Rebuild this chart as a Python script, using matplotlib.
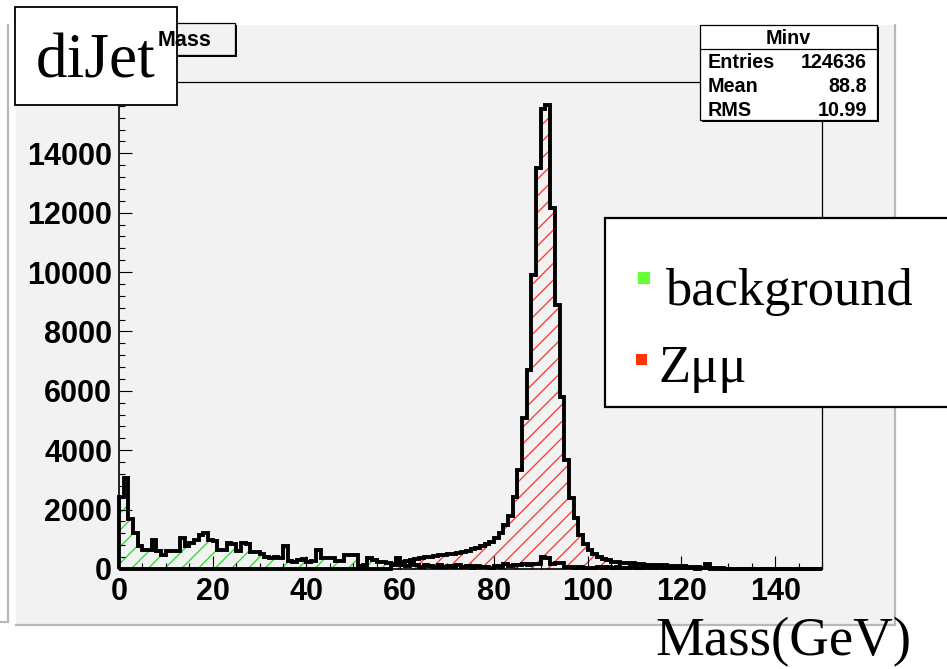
import numpy as np
import matplotlib
matplotlib.use("Agg")
import matplotlib.pyplot as plt
from matplotlib.patches import Rectangle

W, H, DPI = 947, 669, 100

# 1 GeV bins from 0 to 150 GeV
bin_edges = np.arange(0, 151, 1)

background = [
    2410, 3060, 1700, 1200, 760, 630, 630, 980, 590, 480,
    610, 610, 590, 1040, 760, 870, 980, 1150, 1210, 980,
    930, 650, 650, 870, 840, 590, 870, 840, 570, 570,
    500, 420, 370, 390, 370, 790, 280, 250, 310, 340,
    250, 280, 650, 370, 370, 370, 260, 260, 480, 480,
    480, 90, 150, 370, 310, 220, 220, 200, 180, 370,
    150, 100, 200, 120, 80, 150, 100, 60, 120, 80,
    100, 60, 130, 70, 90, 50, 110, 60, 80, 50,
    90, 70, 180, 100, 150, 140, 160, 150, 170, 180,
    400, 380, 170, 200, 200, 80, 60, 40, 60, 30,
    50, 40, 70, 30, 60, 40, 80, 30, 50, 60,
    30, 40, 70, 20, 30, 80, 20, 40, 30, 20,
    30, 20, 40, 10, 20, 160, 10, 0, 0, 0,
    0, 0, 0, 0, 0, 0, 0, 0, 0, 0,
    0, 0, 0, 0, 0, 0, 0, 0, 0, 0,
]

zmumu = [
    0, 0, 0, 0, 0, 0, 0, 0, 0, 0,
    0, 0, 0, 0, 0, 0, 0, 0, 0, 0,
    0, 0, 0, 0, 0, 0, 0, 0, 0, 0,
    0, 0, 0, 0, 0, 0, 0, 0, 0, 0,
    0, 0, 0, 0, 0, 0, 0, 0, 0, 0,
    0, 0, 0, 0, 0, 0, 0, 0, 150, 200,
    240, 280, 310, 340, 370, 400, 420, 440, 460, 480,
    500, 520, 550, 580, 620, 660, 710, 770, 840, 920,
    1030, 1200, 1470, 1800, 2420, 3330, 5080, 6700, 9900, 13500,
    15500, 15620, 12150, 8900, 5800, 3680, 2380, 1710, 1150, 830,
    640, 500, 420, 340, 290, 250, 230, 210, 200, 190,
    170, 160, 150, 150, 140, 130, 120, 110, 110, 100,
    90, 80, 70, 60, 50, 40, 30, 20, 20, 10,
    10, 10, 10, 10, 10, 0, 0, 0, 0, 0,
    0, 0, 0, 0, 0, 0, 0, 0, 0, 0,
]

x_ticks = [0, 20, 40, 60, 80, 100, 120, 140]
y_ticks = [0, 2000, 4000, 6000, 8000, 10000, 12000, 14000, 16000]
# the top label sits under the diJet box, so it is left blank
y_tick_labels = ["0", "2000", "4000", "6000", "8000", "10000", "12000", "14000", ""]

stats_rows = [("Entries", "124636"), ("Mean", "88.8"), ("RMS", "10.99")]
legend_entries = [("background", "#66ff33"), ("Z\u03bc\u03bc", "#ff3300")]

plt.rcParams["hatch.linewidth"] = 0.9
SANS = ["Liberation Sans", "DejaVu Sans"]
SERIF = ["Liberation Serif", "DejaVu Serif"]

fig = plt.figure(figsize=(W / DPI, H / DPI), dpi=DPI)
fig.patch.set_facecolor("white")


def pixel_layer(z, name):
    a = fig.add_axes([0, 0, 1, 1], zorder=z, label=name)
    a.set_xlim(0, W)
    a.set_ylim(H, 0)
    a.axis("off")
    a.patch.set_alpha(0)
    return a


# ---- canvas background ----
back = pixel_layer(-2, "canvas")
back.add_patch(Rectangle((16, 25), 879, 600, facecolor="#f2f2f2", edgecolor="none"))
back.plot([16, 895], [625, 625], color="#b8b8b8", lw=1.6)
back.plot([895, 895], [25, 625], color="#b8b8b8", lw=1.6)
back.plot([8, 8], [25, 622], color="#b8b8b8", lw=1.6)
back.plot([0, 8], [622, 622], color="#b8b8b8", lw=1.6)

# ---- histogram frame ----
x0, x1, yb, yt = 119, 822, 569, 82
ax = fig.add_axes([x0 / W, 1 - yb / H, (x1 - x0) / W, (yb - yt) / H], zorder=0, label="hist")
ax.set_facecolor("#f2f2f2")
ax.set_xlim(0, 150)
ax.set_ylim(0, 16400)

ax.stairs(background, bin_edges, fill=True, facecolor="none", edgecolor="#22dd22",
          hatch="//", linewidth=0)
ax.stairs(zmumu, bin_edges, fill=True, facecolor="none", edgecolor="#ff3030",
          hatch="//", linewidth=0)
ax.stairs(background, bin_edges, baseline=0, color="black", linewidth=2.8, clip_on=False)
ax.stairs(zmumu, bin_edges, baseline=0, color="black", linewidth=2.8, clip_on=False)

ax.set_xticks(x_ticks)
ax.set_xticks(np.arange(0, 151, 5), minor=True)
ax.set_yticks(y_ticks, labels=y_tick_labels)
ax.set_yticks(np.arange(0, 16401, 400), minor=True)
ax.tick_params(which="both", direction="in", top=False, right=False,
               width=0.8, color="black")
ax.tick_params(which="major", length=9.5, labelsize=22)
ax.tick_params(axis="y", which="major", pad=5)
ax.tick_params(axis="x", which="major", pad=6)
ax.tick_params(which="minor", length=4.5)
for lab in ax.get_xticklabels() + ax.get_yticklabels():
    lab.set_fontfamily(SANS)
    lab.set_fontweight("bold")
for side in ("left", "bottom"):
    ax.spines[side].set_linewidth(1.2)
for side in ("top", "right"):
    ax.spines[side].set_linewidth(0.9)

# ---- boxes and labels on top ----
front = pixel_layer(2, "boxes")

# title box
front.add_patch(Rectangle((142, 25), 95, 32, facecolor="black", edgecolor="none"))
front.add_patch(Rectangle((140, 23), 95, 32, facecolor="#f2f2f2", edgecolor="black", lw=0.9))
front.text(158, 41, "Mass", fontsize=15.5, fontweight="bold", family=SANS,
           ha="left", va="center")

# statistics box
sx, sy, sw, sh = 700, 25, 177, 95
front.add_patch(Rectangle((sx + 2, sy + 2), sw, sh, facecolor="black", edgecolor="none"))
front.add_patch(Rectangle((sx, sy), sw, sh, facecolor="white", edgecolor="black", lw=0.9))
front.plot([sx, sx + sw], [49, 49], color="black", lw=0.9)
front.text(sx + sw / 2, 38, "Minv", fontsize=14.2, fontweight="bold", family=SANS,
           ha="center", va="center")
for (name, val), ry in zip(stats_rows, [63, 87, 110]):
    front.text(708, ry, name, fontsize=14.2, fontweight="bold", family=SANS,
               ha="left", va="center")
    front.text(867, ry, val, fontsize=14.2, fontweight="bold", family=SANS,
               ha="right", va="center")

# diJet label box
front.add_patch(Rectangle((15, 7), 162, 98, facecolor="white", edgecolor="black", lw=1.3))
front.text(96, 78, "diJet", fontsize=45.5, family=SERIF, ha="center", va="baseline")

# legend box
front.add_patch(Rectangle((605, 218), 360, 189, facecolor="white", edgecolor="black",
                          lw=1.6, clip_on=False))
marker_boxes = [(638, 272, 12), (636, 354, 11)]
text_pos = [(665, 305), (658, 382)]
for (label, colour), (mx, my, ms), (tx, ty) in zip(legend_entries, marker_boxes, text_pos):
    front.add_patch(Rectangle((mx, my), ms, ms, facecolor=colour, edgecolor="none"))
    front.text(tx, ty, label, fontsize=37.8, family=SERIF, ha="left", va="baseline")

# axis title
front.text(655, 655, "Mass(GeV)", fontsize=39.5, family=SERIF, ha="left", va="baseline")

fig.savefig("out.png", dpi=DPI, facecolor="white")
